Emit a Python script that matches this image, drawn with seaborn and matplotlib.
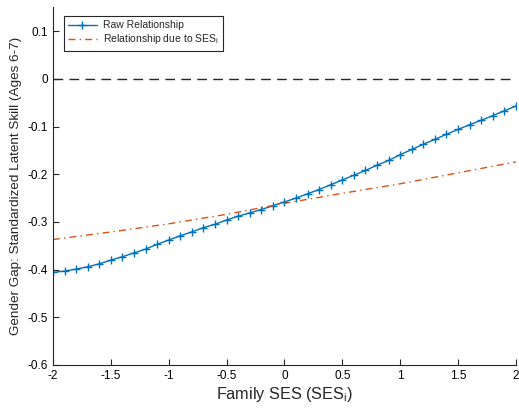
import pandas as pd
import seaborn as sns
import matplotlib.pyplot as plt
from matplotlib.ticker import FuncFormatter


# Values
ses_raw = [-2.0, -1.9, -1.8, -1.7, -1.6, -1.5, -1.4, -1.3, -1.2, -1.1,
           -1.0, -0.9, -0.8, -0.7, -0.6, -0.5, -0.4, -0.3, -0.2, -0.1,
           0.0, 0.1, 0.2, 0.3, 0.4, 0.5, 0.6, 0.7, 0.8, 0.9,
           1.0, 1.1, 1.2, 1.3, 1.4, 1.5, 1.6, 1.7, 1.8, 1.9, 2.0]
gap_raw = [-0.406, -0.403, -0.399, -0.394, -0.388, -0.380, -0.373, -0.365, -0.357, -0.347,
           -0.338, -0.329, -0.321, -0.312, -0.305, -0.296, -0.288, -0.281, -0.274, -0.266,
           -0.258, -0.250, -0.241, -0.232, -0.222, -0.212, -0.202, -0.192, -0.181, -0.171,
           -0.159, -0.148, -0.137, -0.127, -0.116, -0.106, -0.096, -0.087, -0.077, -0.067, -0.057]

ses_due = [-2.0, -1.5, -1.0, -0.5, 0.0, 0.5, 1.0, 1.5, 2.0]
gap_due = [-0.337, -0.321, -0.304, -0.284, -0.261, -0.240, -0.220, -0.197, -0.174]

zero_x = [-2.0, 2.0]
zero_y = [0.0, 0.0]

x_ticks = [-2, -1.5, -1, -0.5, 0, 0.5, 1, 1.5, 2]
y_ticks = [-0.6, -0.5, -0.4, -0.3, -0.2, -0.1, 0, 0.1]

df_raw = pd.DataFrame({'ses': ses_raw, 'gap': gap_raw})
df_due = pd.DataFrame({'ses': ses_due, 'gap': gap_due})
df_zero = pd.DataFrame({'ses': zero_x, 'gap': zero_y})

# Plotting
sns.set_style('ticks')
plt.rcParams['font.family'] = ['Liberation Sans', 'DejaVu Sans']
plt.rcParams['mathtext.fontset'] = 'custom'
plt.rcParams['mathtext.rm'] = 'Liberation Sans'
plt.rcParams['axes.unicode_minus'] = False

fig = plt.figure(figsize=(5.19, 4.11), dpi=100)
ax = fig.add_axes([0.102, 0.112, 0.892, 0.870])

sns.lineplot(data=df_zero, x='ses', y='gap', ax=ax, color='#262626', lw=1.0,
             linestyle=(0, (7, 4.5)), label='_nolegend_')
sns.lineplot(data=df_raw, x='ses', y='gap', ax=ax, color='#0072BD', lw=1.0, linestyle='-',
             marker='+', markersize=6, markeredgewidth=1.0, markeredgecolor='#0072BD',
             label='Raw Relationship')
sns.lineplot(data=df_due, x='ses', y='gap', ax=ax, color='#D95319', lw=1.0,
             linestyle=(0, (5, 3, 1, 3)), label=r'Relationship due to SES$_\mathrm{i}$')

ax.set_xlim(-2, 2)
ax.set_ylim(-0.6, 0.15)
ax.set_xticks(x_ticks)
ax.set_yticks(y_ticks)
fmt = FuncFormatter(lambda v, p: '%g' % round(v, 2))
ax.xaxis.set_major_formatter(fmt)
ax.yaxis.set_major_formatter(fmt)
ax.tick_params(direction='in', length=4, width=0.8, labelsize=8.5, colors='#262626',
               labelcolor='black')

sns.despine(ax=ax)
for s in ['left', 'bottom']:
    ax.spines[s].set_color('#262626')
    ax.spines[s].set_linewidth(0.8)

ax.set_xlabel(r'Family SES (SES$_\mathrm{i}$)', fontsize=11.7, labelpad=2)
ax.set_ylabel('Gender Gap: Standardized Latent Skill (Ages 6-7)', fontsize=9.7, labelpad=4)

leg = ax.legend(loc='upper left', bbox_to_anchor=(0.012, 0.99), fontsize=7.5,
                fancybox=False, framealpha=1, edgecolor='#262626', handlelength=2.8,
                borderpad=0.4, labelspacing=0.2, handletextpad=0.6)
leg.get_frame().set_linewidth(0.8)

plt.savefig('out.png', dpi=100)
